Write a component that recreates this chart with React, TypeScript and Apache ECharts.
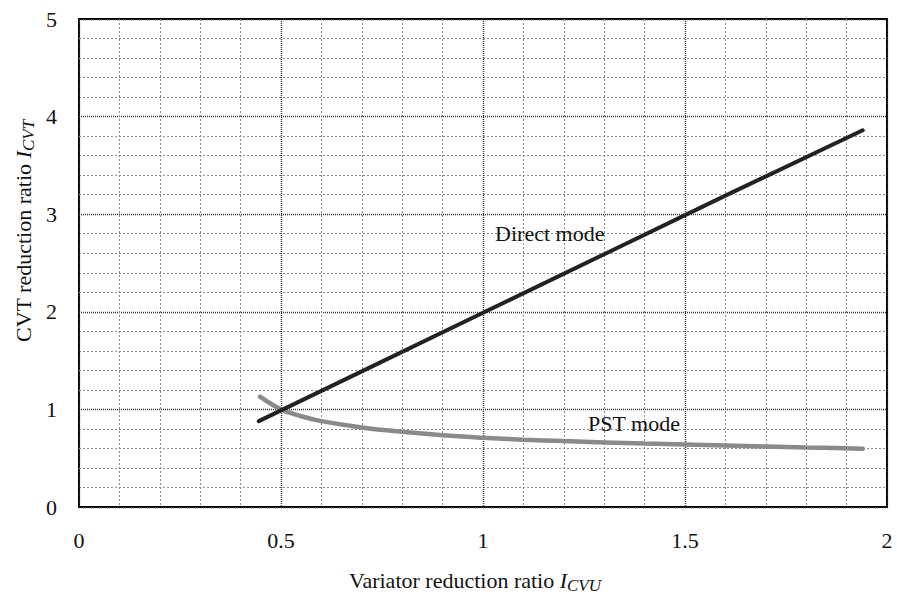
import React, { useEffect, useRef } from "react";
import * as echarts from "echarts";

const directX = [0.445, 0.7, 1.0, 1.3, 1.6, 1.94];
const directY = [0.88, 1.39, 1.99, 2.59, 3.19, 3.86];

const pstX = [0.448, 0.5, 0.55, 0.6, 0.7, 0.8, 0.9, 1.0, 1.1, 1.2, 1.3, 1.4, 1.5, 1.6, 1.7, 1.8, 1.94];
const pstY = [1.13, 1.0, 0.93, 0.88, 0.815, 0.77, 0.735, 0.71, 0.69, 0.675, 0.662, 0.65, 0.64, 0.63, 0.62, 0.61, 0.598];

const xTicks = [0, 0.5, 1, 1.5, 2];
const yTicks = [0, 1, 2, 3, 4, 5];

const directLabel = { text: "Direct mode", x: 1.03, y: 2.8 };
const pstLabel = { text: "PST mode", x: 1.26, y: 0.86 };

const xTitle = { main: "Variator reduction ratio ", sym: "I", sub: "CVU" };
const yTitle = { main: "CVT reduction ratio ", sym: "I", sub: "CVT" };

const FONT = "Liberation Serif";

export default function App() {
  const ref = useRef<HTMLDivElement>(null);
  useEffect(() => {
    if (!ref.current) return;
    const chart = echarts.init(ref.current, undefined, { renderer: "svg" });
    const majorLine = { show: true, lineStyle: { color: "#333", width: 1.4, type: [1, 1] as any } };
    const minorLine = { show: true, lineStyle: { color: "#8a8a8a", width: 1, type: [2, 2] as any } };
    const fmt = (v: number) => {
      const hit = xTicks.find((t) => Math.abs(t - v) < 1e-9);
      return hit === undefined ? "" : String(hit);
    };
    const rich = {
      n: { fontSize: 22, fontFamily: FONT, fill: "#111", color: "#111" },
      i: { fontSize: 22, fontFamily: FONT, fontStyle: "italic", fill: "#111", color: "#111" },
      s: { fontSize: 17, fontFamily: FONT, fontStyle: "italic", fill: "#111", color: "#111", padding: [10, 0, 0, 0] },
    };
    chart.setOption({
      animation: false,
      backgroundColor: "#fff",
      textStyle: { fontFamily: FONT },
      grid: { left: 79, right: 10, top: 19, bottom: 87, show: true, borderColor: "#000", borderWidth: 2, containLabel: false },
      xAxis: {
        type: "value",
        min: xTicks[0],
        max: xTicks[xTicks.length - 1],
        interval: 0.5,
        axisLine: { show: false },
        axisTick: { show: false },
        axisLabel: { margin: 22, fontSize: 22, color: "#111", fontFamily: FONT, formatter: fmt },
        splitLine: majorLine,
        minorTick: { show: false, splitNumber: 5 },
        minorSplitLine: minorLine,
      },
      yAxis: {
        type: "value",
        min: yTicks[0],
        max: yTicks[yTicks.length - 1],
        interval: 1,
        axisLine: { show: false },
        axisTick: { show: false },
        axisLabel: { margin: 22, fontSize: 22, color: "#111", fontFamily: FONT },
        splitLine: majorLine,
        minorTick: { show: false, splitNumber: 5 },
        minorSplitLine: minorLine,
      },
      graphic: [
        {
          type: "text",
          x: 475,
          y: 580,
          style: {
            text: `{n|${xTitle.main}}{i|${xTitle.sym}}{s|${xTitle.sub}}`,
            rich,
            align: "center",
            verticalAlign: "middle",
          },
        },
        {
          type: "text",
          x: 23,
          y: 231,
          rotation: Math.PI / 2,
          style: {
            text: `{n|${yTitle.main}}{i|${yTitle.sym}}{s|${yTitle.sub}}`,
            rich,
            align: "center",
            verticalAlign: "middle",
          },
        },
      ],
      series: [
        {
          type: "line",
          name: "Direct mode",
          data: directX.map((x, i) => [x, directY[i]]),
          showSymbol: false,
          symbol: "none",
          lineStyle: { color: "#222", width: 4, cap: "round" },
          z: 3,
          markPoint: {
            symbol: "circle",
            symbolSize: 0,
            data: [
              {
                coord: [directLabel.x, directLabel.y],
                label: { show: true, formatter: directLabel.text, position: "right", distance: 0, fontSize: 22, color: "#111", fontFamily: FONT },
              },
            ],
          },
        },
        {
          type: "line",
          name: "PST mode",
          data: pstX.map((x, i) => [x, pstY[i]]),
          smooth: 0.4,
          showSymbol: false,
          symbol: "none",
          lineStyle: { color: "#8a8a8a", width: 4.5, cap: "round" },
          z: 2,
          markPoint: {
            symbol: "circle",
            symbolSize: 0,
            data: [
              {
                coord: [pstLabel.x, pstLabel.y],
                label: { show: true, formatter: pstLabel.text, position: "right", distance: 0, fontSize: 22, color: "#111", fontFamily: FONT },
              },
            ],
          },
        },
      ],
    });
    return () => chart.dispose();
  }, []);
  return <div ref={ref} style={{ position: "fixed", left: 0, top: 0, width: 897, height: 594, background: "#fff" }} />;
}
